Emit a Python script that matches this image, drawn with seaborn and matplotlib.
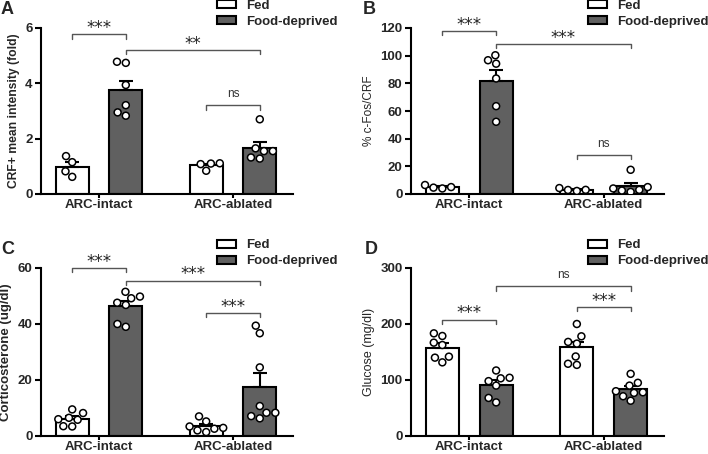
import numpy as np
import pandas as pd
import matplotlib
matplotlib.use("Agg")
import matplotlib.pyplot as plt
import seaborn as sns
from matplotlib.patches import Patch

groups = ["ARC-intact", "ARC-ablated"]
conditions = ["Fed", "Food-deprived"]

# A: CRF+ mean intensity (fold)
a_fed_intact = [1.37, 1.15, 0.82, 0.62]
a_fd_intact = [4.74, 4.78, 3.94, 3.21, 2.83, 2.95]
a_fed_ablated = [1.10, 1.08, 1.11, 0.84]
a_fd_ablated = [2.70, 1.65, 1.55, 1.55, 1.28, 1.32]

# B: % c-Fos/CRF
b_fed_intact = [4.0, 6.5, 4.6, 5.0]
b_fd_intact = [96.7, 100.3, 94.2, 83.5, 63.5, 52.2]
b_fed_ablated = [2.2, 4.3, 2.9, 3.0]
b_fd_ablated = [17.5, 5.0, 1.5, 4.0, 3.0, 2.5]

# C: corticosterone (ug/dl)
c_fed_intact = [9.5, 6.5, 5.8, 8.2, 6.0, 3.5, 3.4]
c_fd_intact = [51.5, 49.2, 49.8, 47.6, 46.8, 39.0, 40.0]
c_fed_ablated = [3.4, 1.4, 5.2, 7.0, 2.6, 2.9, 2.0]
c_fd_ablated = [39.4, 36.7, 24.5, 8.3, 6.3, 10.7, 8.3, 7.1]

# D: glucose (mg/dl)
d_fed_intact = [178.6, 183.3, 162.5, 166.7, 141.7, 131.5, 139.9]
d_fd_intact = [117, 104, 103, 98, 90, 60, 68]
d_fed_ablated = [200, 178, 168, 165, 142, 127, 129]
d_fd_ablated = [111, 95, 90, 78, 80, 77, 71, 63]

bar_colors = {"Fed": "white", "Food-deprived": "#606060"}


def make_df(fed_intact, fd_intact, fed_ablated, fd_ablated):
    rows = []
    for g, c, vals in [("ARC-intact", "Fed", fed_intact), ("ARC-intact", "Food-deprived", fd_intact),
                       ("ARC-ablated", "Fed", fed_ablated), ("ARC-ablated", "Food-deprived", fd_ablated)]:
        for v in vals:
            rows.append({"group": g, "condition": c, "value": v})
    return pd.DataFrame(rows)


panels = [
    dict(letter="A", pos=[41, 194, 252, 166], letter_xy=(1, 1),
         df=make_df(a_fed_intact, a_fd_intact, a_fed_ablated, a_fd_ablated),
         ylabel="CRF+ mean intensity (fold)", label_bold=True, ylabel_size=8.7,
         ylim=(0, 6), yticks=[0, 2, 4, 6],
         brackets=[(0, 1, 5.77, "***"), (1, 3, 5.2, "**"), (2, 3, 3.2, "ns")]),
    dict(letter="B", pos=[411, 194, 253, 166], letter_xy=(363, 1),
         df=make_df(b_fed_intact, b_fd_intact, b_fed_ablated, b_fd_ablated),
         ylabel="% c-Fos/CRF", label_bold=False, ylabel_size=8.5,
         ylim=(0, 120), yticks=[0, 20, 40, 60, 80, 100, 120],
         brackets=[(0, 1, 117.8, "***"), (1, 3, 108.2, "***"), (2, 3, 28.1, "ns")]),
    dict(letter="C", pos=[41, 436, 252, 168], letter_xy=(1, 241),
         df=make_df(c_fed_intact, c_fd_intact, c_fed_ablated, c_fd_ablated),
         ylabel="Corticosterone (ug/dl)", label_bold=True, ylabel_size=9.5,
         ylim=(0, 60), yticks=[0, 20, 40, 60],
         brackets=[(0, 1, 60.0, "***"), (1, 3, 55.4, "***"), (2, 3, 43.9, "***")]),
    dict(letter="D", pos=[411, 436, 253, 168], letter_xy=(365, 241),
         df=make_df(d_fed_intact, d_fd_intact, d_fed_ablated, d_fd_ablated),
         ylabel="Glucose (mg/dl)", label_bold=False, ylabel_size=9,
         ylim=(0, 300), yticks=[0, 100, 200, 300],
         brackets=[(0, 1, 207.7, "***"), (1, 3, 267.3, "ns"), (2, 3, 230.4, "***")]),
]

sns.set_style("ticks")
plt.rcParams["font.family"] = ["Liberation Sans", "DejaVu Sans"]

W, H = 708, 454
fig = plt.figure(figsize=(W / 100, H / 100), dpi=100)

for p in panels:
    x0, yb, w, h = p["pos"]
    ax = fig.add_axes([x0 / W, (H - yb) / H, w / W, h / H])
    df = p["df"]
    ax.set_ylim(*p["ylim"])

    sns.barplot(data=df, x="group", y="value", hue="condition", order=groups,
                hue_order=conditions, palette=bar_colors, errorbar=None,
                width=0.8, gap=0.385, edgecolor="black", linewidth=1.5,
                legend=False, ax=ax, zorder=2)

    # mean + SEM, upward only
    bars = sorted(ax.patches, key=lambda b: b.get_x())
    xs = [b.get_x() + b.get_width() / 2 for b in bars]
    keys = [(g, c) for g in groups for c in conditions]
    for x, b, (g, c) in zip(xs, bars, keys):
        vals = df.loc[(df.group == g) & (df.condition == c), "value"]
        sem = vals.std(ddof=1) / np.sqrt(len(vals))
        ax.errorbar(x, b.get_height(), yerr=[[0], [sem]], color="black",
                    capsize=5, elinewidth=1.5, capthick=1.5, zorder=3)

    sns.swarmplot(data=df, x="group", y="value", hue="condition", order=groups,
                  hue_order=conditions, dodge=True, palette=["white", "white"],
                  edgecolor="black", linewidth=1.1, size=5, legend=False,
                  ax=ax, zorder=4)

    ax.set_xlim(-0.433, 1.448)
    ax.set_ylim(*p["ylim"])
    ax.set_yticks(p["yticks"])
    ax.set_xlabel("")
    ax.set_ylabel(p["ylabel"], fontsize=p["ylabel_size"],
                  fontweight="bold" if p["label_bold"] else "normal", labelpad=4)
    for lab in ax.get_xticklabels() + ax.get_yticklabels():
        lab.set_fontweight("bold")
        lab.set_fontsize(9.5)
    ax.tick_params(axis="y", width=1.5, length=4, pad=2, color="black")
    ax.tick_params(axis="x", width=1.5, length=3, pad=0.5, color="black")
    sns.despine(ax=ax)
    for s in ["left", "bottom"]:
        ax.spines[s].set_linewidth(1.5)
        ax.spines[s].set_color("black")

    # significance brackets
    tick = 0.025 * (p["ylim"][1] - p["ylim"][0])
    for i, j, y, txt in p["brackets"]:
        ax.plot([xs[i], xs[i], xs[j], xs[j]], [y - tick, y, y, y - tick],
                color="#555555", lw=1, clip_on=False, zorder=5)
        if txt == "ns":
            ax.annotate(txt, xy=((xs[i] + xs[j]) / 2, y), xytext=(0, 6),
                        textcoords="offset points", ha="center", va="baseline",
                        fontsize=8.5, color="#333333", annotation_clip=False)
        else:
            ax.annotate(txt, xy=((xs[i] + xs[j]) / 2, y), xytext=(0, 1),
                        textcoords="offset points", ha="center", va="baseline",
                        fontsize=12, family="DejaVu Sans", color="#222222",
                        annotation_clip=False)

    handles = [Patch(facecolor=bar_colors[c], edgecolor="black", linewidth=1.5)
               for c in conditions]
    ax.legend(handles, conditions, loc="upper left", bbox_to_anchor=(0.70, 1.17),
              frameon=False, prop=dict(weight="bold", size=9.5), handlelength=1.4,
              handleheight=0.55, handletextpad=0.8, labelspacing=0.3,
              borderaxespad=0, borderpad=0)

    lx, ly = p["letter_xy"]
    fig.text(lx / W, 1 - ly / H, p["letter"], fontsize=13, fontweight="bold",
             ha="left", va="top")

fig.savefig("out.png", dpi=100)
